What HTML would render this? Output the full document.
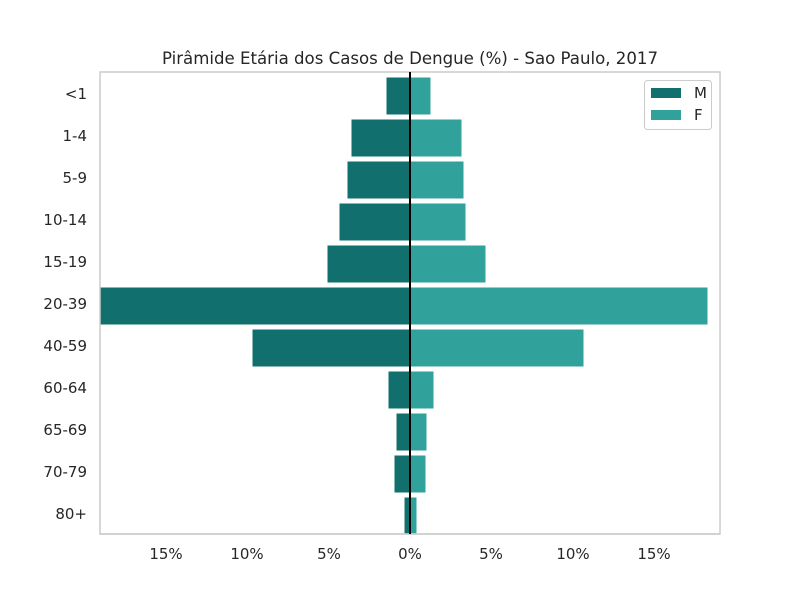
<!DOCTYPE html>
<html><head><meta charset="utf-8"><style>body{margin:0;background:#fff}svg{display:block}</style></head>
<body>
<svg width="800" height="600" xmlns="http://www.w3.org/2000/svg" font-family="DejaVu Sans, Liberation Sans, sans-serif">
<rect width="800" height="600" fill="#fff"/>
<text x="410" y="64" font-size="16.6" text-anchor="middle" fill="#262626">Pirâmide Etária dos Casos de Dengue (%) - Sao Paulo, 2017</text>
<g stroke="#fff" stroke-width="1">
<g fill="#11706e">
<rect x="386" y="77" width="24" height="38"/>
<rect x="351" y="119" width="59" height="38"/>
<rect x="347" y="161" width="63" height="38"/>
<rect x="339" y="203" width="71" height="38"/>
<rect x="327" y="245" width="83" height="38"/>
<rect x="100" y="287" width="310" height="38"/>
<rect x="252" y="329" width="158" height="38"/>
<rect x="388" y="371" width="22" height="38"/>
<rect x="396" y="413" width="14" height="38"/>
<rect x="394" y="455" width="16" height="38"/>
<rect x="404" y="497" width="6" height="38"/>
</g>
<g fill="#30a19b">
<rect x="410" y="77" width="21" height="38"/>
<rect x="410" y="119" width="52" height="38"/>
<rect x="410" y="161" width="54" height="38"/>
<rect x="410" y="203" width="56" height="38"/>
<rect x="410" y="245" width="76" height="38"/>
<rect x="410" y="287" width="298" height="38"/>
<rect x="410" y="329" width="174" height="38"/>
<rect x="410" y="371" width="24" height="38"/>
<rect x="410" y="413" width="17" height="38"/>
<rect x="410" y="455" width="16" height="38"/>
<rect x="410" y="497" width="7" height="38"/>
</g>
</g>
<rect x="100" y="72" width="620" height="462" fill="none" stroke="#ccc" stroke-width="1.5"/>
<rect x="95" y="535" width="630" height="20" fill="#fff"/>
<line x1="100" y1="534" x2="720" y2="534" stroke="#ccc" stroke-width="1.5"/>
<line x1="410" y1="72" x2="410" y2="534" stroke="#000" stroke-width="2"/>
<g font-size="15" fill="#262626" text-anchor="end">
<text x="87" y="99">&lt;1</text>
<text x="87" y="141">1-4</text>
<text x="87" y="183">5-9</text>
<text x="87" y="225">10-14</text>
<text x="87" y="267">15-19</text>
<text x="87" y="309">20-39</text>
<text x="87" y="351">40-59</text>
<text x="87" y="393">60-64</text>
<text x="87" y="435">65-69</text>
<text x="87" y="477">70-79</text>
<text x="87" y="519">80+</text>
</g>
<g font-size="15" fill="#262626" text-anchor="middle">
<text x="166" y="559">15%</text>
<text x="247" y="559">10%</text>
<text x="329" y="559">5%</text>
<text x="410" y="559">0%</text>
<text x="491" y="559">5%</text>
<text x="573" y="559">10%</text>
<text x="654" y="559">15%</text>
</g>
<rect x="644.5" y="80.5" width="67" height="49" rx="3" fill="#fff" stroke="#ccc"/>
<rect x="651" y="88" width="30" height="10" fill="#11706e"/>
<rect x="651" y="110" width="30" height="10" fill="#30a19b"/>
<text x="694" y="98" font-size="15" fill="#262626">M</text>
<text x="694" y="120" font-size="15" fill="#262626">F</text>
</svg>
</body></html>
